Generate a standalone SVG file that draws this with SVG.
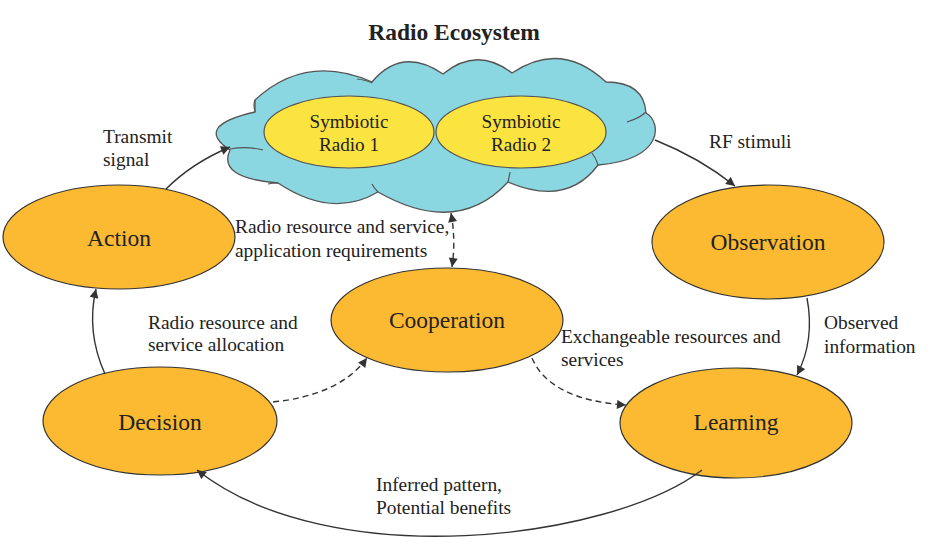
<svg xmlns="http://www.w3.org/2000/svg" width="931" height="548" viewBox="0 0 931 548">
<style>
.node{fill:#FBBA31;stroke:#333;stroke-width:1.2}
.yel{fill:#FCE440;stroke:#555;stroke-width:1.2}
.cloud{fill:#8AD6E1;stroke:#555;stroke-width:1.3}
.inner{fill:none;stroke:#555;stroke-width:1.2}
text{font-family:'Liberation Serif','DejaVu Serif',serif;font-weight:normal;fill:#222}
.nt{font-size:23.5px;text-anchor:middle}
.yt{font-size:19.2px;text-anchor:middle}
.lbl{font-size:19.4px}
.title{font-size:23.5px;font-weight:bold;text-anchor:middle}
.c{fill:none;stroke:#333;stroke-width:1.4}
.d{fill:none;stroke:#333;stroke-width:1.4;stroke-dasharray:6,4}
</style>
<defs>
<marker id="ah" viewBox="0 0 10 10" refX="10" refY="5" markerWidth="10" markerHeight="9" markerUnits="userSpaceOnUse" orient="auto-start-reverse">
<path d="M0,0 L10,5 L0,10 z" fill="#333"/>
</marker>
</defs>
<rect width="931" height="548" fill="#fff"/>
<text class="title" x="454" y="40">Radio Ecosystem</text>

<g id="cloud">
<path class="cloud" d="M255,100 Q306,53 372,82 Q402,46 443,74 Q477,46 512,73 Q561,40 606,82 Q644,82 646,113 C662,122 664,160 598,165 Q567,207 508,182 Q457,237 378,192 Q332,219 278,183 Q217,178 230,150 Q193,126 255,112 Z"/>
<path class="inner" d="M230,149 Q248,146 263,150"/>
<path class="inner" d="M357,79 Q366,80 372,83"/>
<path class="inner" d="M627,122 Q640,118 646,112"/>
<path class="inner" d="M592,153 Q596,158 598,165"/>
<path class="inner" d="M508,182 Q509,178 510,172"/>
<path class="inner" d="M378,192 Q374,188 372,184"/>
<path class="inner" d="M278,183 Q272,183 268,184"/>
<path class="inner" d="M255,112 Q253,104 255,100"/>
</g>

<g id="radio1">
<ellipse class="yel" cx="349" cy="132" rx="85" ry="36"/>
<text class="yt" x="349" y="128">Symbiotic</text>
<text class="yt" x="349" y="151">Radio 1</text>
</g>
<g id="radio2">
<ellipse class="yel" cx="521" cy="132" rx="85" ry="36"/>
<text class="yt" x="521" y="128">Symbiotic</text>
<text class="yt" x="521" y="151">Radio 2</text>
</g>

<g id="action">
<ellipse class="node" cx="119" cy="237" rx="116" ry="52"/>
<text class="nt" x="119" y="246">Action</text>
</g>
<g id="observation">
<ellipse class="node" cx="768" cy="242" rx="116" ry="57"/>
<text class="nt" x="768" y="250">Observation</text>
</g>
<g id="cooperation">
<ellipse class="node" cx="447" cy="320" rx="116" ry="52"/>
<text class="nt" x="447" y="328">Cooperation</text>
</g>
<g id="decision">
<ellipse class="node" cx="160" cy="421" rx="117" ry="54"/>
<text class="nt" x="160" y="430">Decision</text>
</g>
<g id="learning">
<ellipse class="node" cx="736" cy="423" rx="116" ry="55"/>
<text class="nt" x="736" y="430">Learning</text>
</g>

<g id="connectors">
<path class="c" d="M166,189 Q192,163 230,147" marker-end="url(#ah)"/>
<path class="c" d="M655,140 Q700,158 735,186" marker-end="url(#ah)"/>
<path class="c" d="M807,298 Q815,340 797,375" marker-end="url(#ah)"/>
<path class="c" d="M702,470 C610,540 330,575 197,470" marker-end="url(#ah)"/>
<path class="c" d="M105,374 Q86,332 96,289" marker-end="url(#ah)"/>
<path class="d" d="M273,402 Q340,395 367,358" marker-end="url(#ah)"/>
<path class="d" d="M532,358 Q550,400 626,405" marker-end="url(#ah)"/>
<path class="d" d="M451,213 Q456,240 452,267" marker-start="url(#ah)" marker-end="url(#ah)"/>
</g>

<g id="labels">
<text class="lbl" x="103" y="143">Transmit</text>
<text class="lbl" x="103" y="166">signal</text>
<text class="lbl" x="709" y="148">RF stimuli</text>
<text class="lbl" x="235" y="233">Radio resource and service,</text>
<text class="lbl" x="235" y="257">application requirements</text>
<text class="lbl" x="148" y="329">Radio resource and</text>
<text class="lbl" x="148" y="351">service allocation</text>
<text class="lbl" x="824" y="329">Observed</text>
<text class="lbl" x="824" y="353">information</text>
<text class="lbl" x="561" y="343">Exchangeable resources and</text>
<text class="lbl" x="561" y="366">services</text>
<text class="lbl" x="376" y="491">Inferred pattern,</text>
<text class="lbl" x="376" y="514">Potential benefits</text>
</g>
</svg>
